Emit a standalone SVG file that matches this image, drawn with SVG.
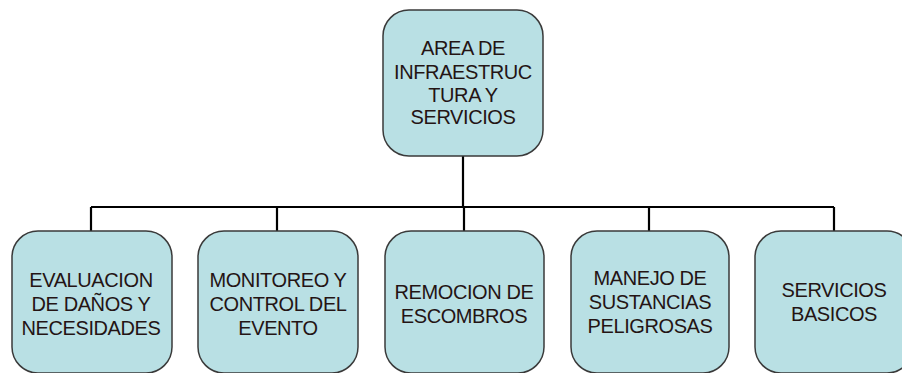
<svg xmlns="http://www.w3.org/2000/svg" width="902" height="373" viewBox="0 0 902 373">
<style>
.box{fill:#b9e0e4;stroke:#3a3a3a;stroke-width:1.5}
.lbl{font-family:"Liberation Sans",Arial,sans-serif;font-size:20px;letter-spacing:-0.4px;fill:#241414;text-anchor:middle}
.conn{fill:none;stroke:#000;stroke-width:2.2}
</style>
<rect width="902" height="373" fill="#fff"/>
<g id="connectors">
<path class="conn" d="M463 156 V207 M91 207 H834 M91 207 V231 M277 207 V231 M464 207 V231 M649 207 V231 M834 207 V231"/>
</g>
<g id="node-area">
<rect class="box" x="383" y="10" width="160" height="146" rx="26"/>
<text class="lbl" x="463" y="55">AREA DE</text>
<text class="lbl" x="463" y="79">INFRAESTRUC</text>
<text class="lbl" x="463" y="102">TURA Y</text>
<text class="lbl" x="463" y="124">SERVICIOS</text>
</g>
<g id="node-evaluacion">
<rect class="box" x="12" y="231" width="160" height="142" rx="26"/>
<text class="lbl" x="91" y="287">EVALUACION</text>
<text class="lbl" x="91" y="311">DE DAÑOS Y</text>
<text class="lbl" x="91" y="335">NECESIDADES</text>
</g>
<g id="node-monitoreo">
<rect class="box" x="198" y="231" width="160" height="142" rx="26"/>
<text class="lbl" x="278" y="287">MONITOREO Y</text>
<text class="lbl" x="278" y="311">CONTROL DEL</text>
<text class="lbl" x="278" y="335">EVENTO</text>
</g>
<g id="node-remocion">
<rect class="box" x="385" y="231" width="159" height="142" rx="26"/>
<text class="lbl" x="464" y="299">REMOCION DE</text>
<text class="lbl" x="464" y="323">ESCOMBROS</text>
</g>
<g id="node-manejo">
<rect class="box" x="571" y="231" width="158" height="142" rx="26"/>
<text class="lbl" x="650" y="285">MANEJO DE</text>
<text class="lbl" x="650" y="309">SUSTANCIAS</text>
<text class="lbl" x="650" y="333">PELIGROSAS</text>
</g>
<g id="node-servicios">
<rect class="box" x="755" y="231" width="158" height="142" rx="26"/>
<text class="lbl" x="834" y="297">SERVICIOS</text>
<text class="lbl" x="834" y="321">BASICOS</text>
</g>
</svg>
